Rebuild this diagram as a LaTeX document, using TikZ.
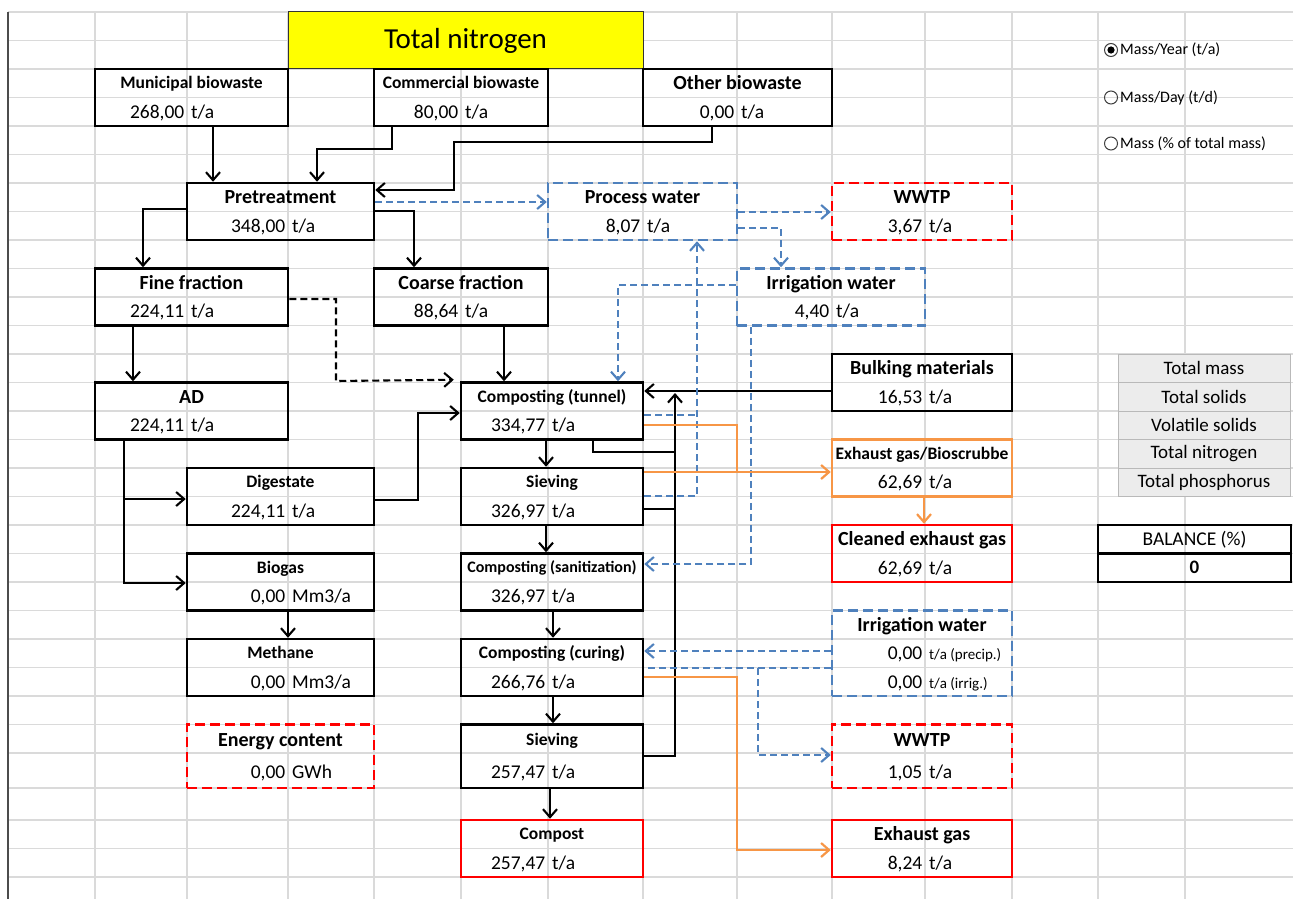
\documentclass[tikz,border=0pt]{standalone}
\usepackage{fontspec}
\setmainfont{Carlito}
\usetikzlibrary{arrows.meta,calc}
\definecolor{gridc}{HTML}{DADADA}
\definecolor{blu}{HTML}{4F81BD}
\definecolor{org}{HTML}{F79646}
\definecolor{rd}{HTML}{FF0000}
\definecolor{ylw}{HTML}{FFFF00}
\definecolor{btn}{HTML}{ECECEC}
% #1 name, #2 box style, #3 x1, #4 y1, #5 x2, #6 y2, #7 label style, #8 label, #9 split x
\newcommand\mkbox[9]{%
  \node[#2, minimum width={#5-#3}, minimum height={#6-#4}] (#1) at ({(#3+#5)/2},{(#4+#6)/2}) {};
  \node[#7] (#1-l) at ({(#3+#5)/2},{0.75*#4+0.25*#6}) {#8};
  \coordinate (#1-s) at (#9,{0.25*#4+0.75*#6+6.5});
}
\newcommand\mkval[3]{%
  \node[val, anchor=base east] (#1-n) at ([xshift=-2.5pt]#1-s) {#2};
  \node[val, anchor=base west] (#1-u) at ([xshift=4pt]#1-s) {#3};
}
\begin{document}
\begin{tikzpicture}[x=1pt,y=-1pt,
  bx/.style={draw, line width=2.5, inner sep=0},
  bbox/.style={bx, draw=black},
  bluebox/.style={bx, draw=blu, dash pattern=on 10pt off 5pt},
  rdbox/.style={bx, draw=rd, dash pattern=on 10pt off 5pt},
  rbox/.style={bx, draw=rd},
  obox/.style={bx, draw=org},
  lblB/.style={font=\fontsize{20}{20}\selectfont\bfseries, inner sep=0, text height=12.8pt, text depth=0pt},
  lblS/.style={font=\fontsize{17.5}{17.5}\selectfont\bfseries, inner sep=0, text height=11.2pt, text depth=0pt},
  lblSS/.style={font=\fontsize{16}{16}\selectfont\bfseries, inner sep=0, text height=10.3pt, text depth=0pt},
  val/.style={font=\fontsize{19.5}{19.5}\selectfont, inner sep=0},
  sml/.style={font=\fontsize{15}{15}\selectfont, inner sep=0},
  rad/.style={font=\fontsize{16}{16}\selectfont, inner sep=0, anchor=west},
  btnst/.style={draw=gray!55, fill=btn, line width=1, minimum width=172, minimum height=28.5, inner sep=0, font=\fontsize{19}{19}\selectfont},
  con/.style={line width=2.1},
  blk/.style={con, draw=black},
  bluc/.style={con, draw=blu, dash pattern=on 7pt off 4pt},
  orgc/.style={con, draw=org, line width=2.2},
  arr/.style={-{Straight Barb[length=8pt,width=14pt]}}
]
\useasboundingbox (0,0) rectangle (1293,899);
\fill[white] (0,0) rectangle (1293,899);
% spreadsheet grid
\foreach \x in {95,187,288,374,461,548,643,737,832,925,1012,1098,1185}
  \draw[gridc, line width=1.2] (\x,12) -- (\x,899);
\foreach \y in {12,40.5,69,97.5,126,154.5,183,211.5,240,268.5,297,325.5,354,382.5,411,439.5,468,496.5,525,553.5,582,610.5,639,667.5,696,724.5,753,788,820,848.5,877}
  \draw[gridc, line width=1.2] (8,\y) -- (1293,\y);
\draw[gray!60!black, line width=1.4] (8,12) -- (8,899);

% title
\node[draw=black!80, line width=1, fill=ylw, minimum width=355, minimum height=57, inner sep=0,
  font=\fontsize{29}{29}\selectfont] (title) at (465.5,40.5) {Total nitrogen};

% boxes
\mkbox{mun}{bbox}{95}{69}{288}{126}{lblS}{Municipal biowaste}{187}
\mkval{mun}{268,00}{t/a}
\mkbox{com}{bbox}{374}{69}{548}{126}{lblS}{Commercial biowaste}{461}
\mkval{com}{80,00}{t/a}
\mkbox{oth}{bbox}{643}{69}{832}{126}{lblB}{Other biowaste}{737}
\mkval{oth}{0,00}{t/a}
\mkbox{pre}{bbox}{187}{183}{374}{240}{lblB}{Pretreatment}{288}
\mkval{pre}{348,00}{t/a}
\mkbox{pw}{bluebox}{548}{183}{737}{240}{lblB}{Process water}{643}
\mkval{pw}{8,07}{t/a}
\mkbox{ww1}{rdbox}{832}{183}{1012}{240}{lblB}{WWTP}{925}
\mkval{ww1}{3,67}{t/a}
\mkbox{fine}{bbox}{95}{268.5}{288}{325.5}{lblB}{Fine fraction}{187}
\mkval{fine}{224,11}{t/a}
\mkbox{coa}{bbox}{374}{268.5}{548}{325.5}{lblB}{Coarse fraction}{461}
\mkval{coa}{88,64}{t/a}
\mkbox{ir1}{bluebox}{737}{268.5}{925}{325.5}{lblB}{Irrigation water}{832}
\mkval{ir1}{4,40}{t/a}
\mkbox{bulk}{bbox}{832}{354}{1012}{411}{lblB}{Bulking materials}{925}
\mkval{bulk}{16,53}{t/a}
\mkbox{ad}{bbox}{95}{382.5}{288}{439.5}{lblB}{AD}{187}
\mkval{ad}{224,11}{t/a}
\mkbox{tun}{bbox}{461}{382.5}{643}{439.5}{lblS}{Composting (tunnel)}{548}
\mkval{tun}{334,77}{t/a}
\mkbox{exb}{obox}{832}{439.5}{1012}{496.5}{lblS}{Exhaust gas/Bioscrubbe}{925}
\mkval{exb}{62,69}{t/a}
\mkbox{dig}{bbox}{187}{468}{374}{525}{lblS}{Digestate}{288}
\mkval{dig}{224,11}{t/a}
\mkbox{sv1}{bbox}{461}{468}{643}{525}{lblS}{Sieving}{548}
\mkval{sv1}{326,97}{t/a}
\mkbox{cln}{rbox}{832}{525}{1012}{582}{lblB}{Cleaned exhaust gas}{925}
\mkval{cln}{62,69}{t/a}
\mkbox{bio}{bbox}{187}{553.5}{374}{610.5}{lblS}{Biogas}{288}
\mkval{bio}{0,00}{Mm3/a}
\mkbox{san}{bbox}{461}{553.5}{643}{610.5}{lblSS}{Composting (sanitization)}{548}
\mkval{san}{326,97}{t/a}
\mkbox{met}{bbox}{187}{639}{374}{696}{lblS}{Methane}{288}
\mkval{met}{0,00}{Mm3/a}
\mkbox{cur}{bbox}{461}{639}{643}{696}{lblS}{Composting (curing)}{548}
\mkval{cur}{266,76}{t/a}
% irrigation water (three rows)
\node[bluebox, minimum width=180, minimum height=85.5] (ir2) at (922,653.25) {};
\node[lblB] (ir2-l) at (922,624.75) {Irrigation water};
\node[val, anchor=base east] (ir2-n1) at (922.5,659.75) {0,00};
\node[sml, anchor=base west] (ir2-u1) at (929,659.75) {t/a (precip.)};
\node[val, anchor=base east] (ir2-n2) at (922.5,688.25) {0,00};
\node[sml, anchor=base west] (ir2-u2) at (929,688.25) {t/a (irrig.)};
\mkbox{en}{rdbox}{187}{724.5}{374}{788}{lblB}{Energy content}{288}
\mkval{en}{0,00}{GWh}
\mkbox{sv2}{bbox}{461}{724.5}{643}{788}{lblS}{Sieving}{548}
\mkval{sv2}{257,47}{t/a}
\mkbox{ww2}{rdbox}{832}{724.5}{1012}{788}{lblB}{WWTP}{925}
\mkval{ww2}{1,05}{t/a}
\mkbox{cmp}{rbox}{461}{820}{643}{877}{lblS}{Compost}{548}
\mkval{cmp}{257,47}{t/a}
\mkbox{exh}{rbox}{832}{820}{1012}{877}{lblB}{Exhaust gas}{925}
\mkval{exh}{8,24}{t/a}

% radio buttons
\node[circle, draw=gray!50!black, line width=1, minimum size=13, inner sep=0] (r1) at (1111,50) {};
\fill[black] (r1.center) circle (3.6);
\node[rad] (r1-t) at (1120,50) {Mass/Year (t/a)};
\node[circle, draw=gray!50!black, line width=1, minimum size=13, inner sep=0] (r2) at (1111,97.5) {};
\node[rad] (r2-t) at (1120,97.5) {Mass/Day (t/d)};
\node[circle, draw=gray!50!black, line width=1, minimum size=13, inner sep=0] (r3) at (1111,143.5) {};
\node[rad] (r3-t) at (1120,143.5) {Mass (\% of total mass)};

% buttons
\node[btnst] (b1) at (1204,368.25) {Total mass};
\node[btnst] (b2) at (1204,396.75) {Total solids};
\node[btnst] (b3) at (1204,425.25) {Volatile solids};
\node[btnst] (b4) at (1204,453.75) {Total nitrogen};
\node[btnst] (b5) at (1204,482.25) {Total phosphorus};

% balance
\node[bbox, minimum width=193, minimum height=57] (bal) at (1194.5,553.5) {};
\draw[black, line width=2.4] (bal.west) -- (bal.east);
\node[val] (bal-l) at (1194.5,539.25) {BALANCE (\%)};
\node[val, font=\fontsize{19}{19}\selectfont\bfseries] (bal-v) at (1194.5,567.75) {0};

% ---- connectors: black ----
\draw[blk,arr] (mun.south -| 213,0) -- (pre.north -| 213,0);
\draw[blk,arr] (com.south -| 392,0) -- (392,149) -- (317,149) -- (pre.north -| 317,0);
\draw[blk,arr] (oth.south -| 712,0) -- (712,142) -- (454,142) -- (454,190) -- (pre.east |- 0,190);
\draw[blk,arr] (pre.west |- 0,209) -- (143,209) -- (fine.north -| 143,0);
\draw[blk,arr] (pre.east |- 0,211) -- (414,211) -- (coa.north -| 414,0);
\draw[blk,arr] (fine.south -| 133,0) -- (ad.north -| 133,0);
\draw[blk,arr,dash pattern=on 7pt off 4pt] (fine.east |- 0,299) -- (336,299) -- (336,381) -- ([xshift=-6pt,yshift=1.5pt]tun.north west);
\draw[blk,arr] (coa.south -| 504,0) -- (tun.north -| 504,0);
\coordinate (j1) at (124,499);
\draw[blk,arr] (ad.south -| 124,0) -- (124,583) -- (bio.west |- 0,583);
\draw[blk,arr] (j1) -- (dig.west |- j1);
\draw[blk,arr] (dig.east |- 0,500) -- (418,500) -- (418,413) -- (tun.west |- 0,413);
\draw[blk,arr] (bio.south -| 288,0) -- (met.north -| 288,0);
\draw[blk,arr] (tun.south -| 546,0) -- (sv1.north -| 546,0);
\draw[blk,arr] (sv1.south -| 546,0) -- (san.north -| 546,0);
\draw[blk,arr] (san.south -| 553,0) -- (cur.north -| 553,0);
\draw[blk,arr] (cur.south -| 553,0) -- (sv2.north -| 553,0);
\draw[blk,arr] (sv2.south -| 550,0) -- (cmp.north -| 550,0);
\draw[blk,arr] (bulk.west |- 0,391) -- (tun.east |- 0,391);
\coordinate (rt) at (675,393);
\draw[blk,arr] (sv2.east |- 0,756) -- (675,756) -- (rt);
\draw[blk] (tun.south -| 593,0) -- (593,452) -- (675,452);
\draw[blk] (sv1.east |- 0,509) -- (675,509);

% ---- connectors: blue (water) ----
\draw[bluc,arr] (pre.east |- 0,202) -- (pw.west |- 0,202);
\draw[bluc,arr] (pw.east |- 0,212) -- (ww1.west |- 0,212);
\draw[bluc,arr] (pw.east |- 0,228) -- (781,228) -- (ir1.north -| 781,0);
\draw[bluc,arr] (ir1.west |- 0,285) -- (618,285) -- (tun.north -| 618,0);
\draw[bluc] (tun.east |- 0,415) -- (697,415);
\draw[bluc,arr] (sv1.east |- 0,496) -- (697,496) -- (pw.south -| 697,0);
\draw[bluc,arr] (ir1.south -| 751,0) -- (751,564) -- (san.east |- 0,564);
\draw[bluc,arr] (ir2.west |- 0,651) -- (cur.east |- 0,651);
\draw[bluc] (ir2.west |- 0,668) -- (cur.east |- 0,668);
\coordinate (j2) at (758,668);
\draw[bluc,arr] (j2) -- (758,755) -- (ww2.west |- 0,755);

% ---- connectors: orange (gas) ----
\draw[orgc] (tun.east |- 0,425) -- (737,425) -- (737,472);
\draw[orgc,arr] (sv1.east |- 0,472) -- (exb.west |- 0,472);
\draw[orgc,arr] (exb.south -| 924,0) -- (cln.north -| 924,0);
\draw[orgc,arr] (cur.east |- 0,677) -- (737,677) -- (737,850) -- (exh.west |- 0,850);
\end{tikzpicture}
\end{document}
